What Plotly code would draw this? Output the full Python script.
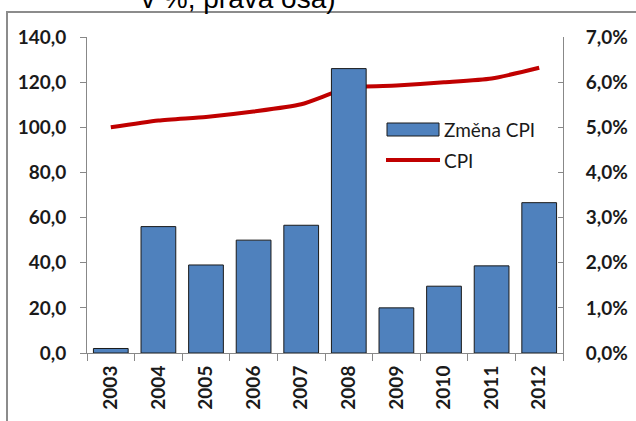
import plotly.graph_objects as go

years = ["2003", "2004", "2005", "2006", "2007", "2008", "2009", "2010", "2011", "2012"]
zmena_cpi = [0.001, 0.028, 0.0195, 0.025, 0.0283, 0.063, 0.010, 0.0148, 0.0193, 0.0333]
cpi = [100.0, 103.0, 104.6, 107.0, 110.2, 117.5, 118.5, 119.9, 121.6, 126.4]

W, H = 636, 421
L, R, T, B = 87, 563, 37, 353
BAR_COLOR = "#4F81BD"
LINE_COLOR = "#C00000"

fig = go.Figure()
fig.add_trace(go.Bar(
    x=years, y=zmena_cpi, name="Změna CPI", yaxis="y2", showlegend=False,
    marker=dict(color=BAR_COLOR, line=dict(color="#1a1a1a", width=1)),
))
fig.add_trace(go.Scatter(
    x=years, y=cpi, name="CPI", mode="lines", yaxis="y", showlegend=False,
    line=dict(color=LINE_COLOR, width=4, shape="spline", smoothing=0.6),
))

tickfont = dict(family="Lato", size=19, color="#1a1a1a", weight="bold")
legfont = dict(family="Lato", size=19, color="#1a1a1a")

def px_x(p):
    return (p - L) / (R - L)

def px_y(p):
    return (B - p) / (B - T)

fig.update_layout(
    width=W, height=H,
    margin=dict(l=L, r=W - R, t=T, b=H - B, autoexpand=False),
    paper_bgcolor="white", plot_bgcolor="white",
    separators=", ",
    bargap=0.27,
    showlegend=False,
    xaxis=dict(
        type="category", showgrid=False, showline=True, linecolor="#888888", linewidth=1,
        ticks="outside", ticklen=7, tickcolor="#888888", tickson="boundaries",
        tickangle=-90, tickfont=tickfont, ticklabelstandoff=4, automargin=False,
    ),
    yaxis=dict(
        range=[0, 140], dtick=20, tickformat=".1f", showgrid=False, zeroline=False,
        showline=True, linecolor="#888888", linewidth=1,
        ticks="outside", ticklen=6, tickcolor="#888888", tickfont=tickfont,
        ticklabelstandoff=10, automargin=False,
    ),
    yaxis2=dict(
        range=[0, 0.07], dtick=0.01, tickformat=".1%", overlaying="y", side="right",
        showgrid=False, zeroline=False, showline=True, linecolor="#888888", linewidth=1,
        ticks="inside", ticklen=5, tickcolor="#888888", tickfont=tickfont,
        ticklabelstandoff=18, automargin=False,
    ),
    shapes=[
        # outer frame of the embedded chart
        dict(type="line", xref="paper", yref="paper", x0=px_x(7), x1=px_x(7),
             y0=px_y(430), y1=px_y(12), line=dict(color="#8c8c8c", width=2)),
        dict(type="line", xref="paper", yref="paper", x0=px_x(6), x1=px_x(640),
             y0=px_y(12), y1=px_y(12), line=dict(color="#8c8c8c", width=2)),
        # legend swatches
        dict(type="rect", xref="paper", yref="paper", x0=px_x(387), x1=px_x(439),
             y0=px_y(136), y1=px_y(123), fillcolor=BAR_COLOR,
             line=dict(color="#1a1a1a", width=1)),
        dict(type="line", xref="paper", yref="paper", x0=px_x(386), x1=px_x(440),
             y0=px_y(160), y1=px_y(160), line=dict(color=LINE_COLOR, width=4)),
    ],
    annotations=[
        dict(text="v %, pravá osa)", xref="paper", yref="paper", x=px_x(139), y=px_y(-2),
             xanchor="left", yanchor="middle", showarrow=False,
             font=dict(family="Liberation Sans", size=28, color="#000000")),
        dict(text="Změna CPI", xref="paper", yref="paper", x=px_x(442), y=px_y(129),
             xanchor="left", yanchor="middle", showarrow=False, font=legfont),
        dict(text="CPI", xref="paper", yref="paper", x=px_x(442), y=px_y(160),
             xanchor="left", yanchor="middle", showarrow=False, font=legfont),
    ],
)

fig.write_html("out.html", config={"displayModeBar": False},
               post_script="document.body.style.margin='0px';")
